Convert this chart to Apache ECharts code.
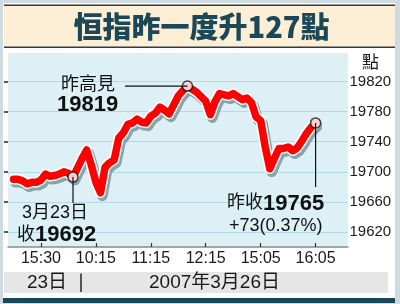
<!DOCTYPE html>
<html><head><meta charset="utf-8">
<script src="https://cdn.jsdelivr.net/npm/echarts@6/dist/echarts.min.js"></script>
<style>html,body{margin:0;padding:0;background:#cfdae1;}#c{width:400px;height:304px;}</style>
</head><body><div id="c"></div>
<script>
const titleText = '恒指昨一度升127點';
const day1Label = '23日';
const day2Label = '2007年3月26日';
const unitLabel = '點';

const day1Times = ['15:00','15:05','15:10','15:15','15:20','15:25','15:30','15:35','15:40','15:45','15:50','15:55','16:00','16:05'];
const day1Values = [19690,19690,19688,19684,19686,19686,19689,19697,19694,19695,19697,19700,19698,19693];

const amTimes = ['10:00','10:05','10:10','10:15','10:20','10:25','10:30','10:35','10:40','10:45','10:50','10:55',
  '11:00','11:05','11:10','11:15','11:20','11:25','11:30','11:35','11:40','11:45','11:50','11:55',
  '12:00','12:05','12:10','12:15','12:20','12:25','12:30'];
const amValues = [19718,19729,19709,19686,19672,19706,19712,19716,19745,19752,19763,19765,
  19770,19766,19765,19774,19778,19786,19782,19777,19789,19801,19808,19814,
  19810,19806,19800,19794,19776,19793,19804];

const pmTimes = ['14:30','14:35','14:40','14:45','14:50','14:55','15:00','15:05','15:10','15:15','15:20','15:25',
  '15:30','15:35','15:40','15:45','15:50','15:55','16:00','16:05'];
const pmValues = [19801,19804,19800,19796,19798,19792,19773,19768,19733,19704,19718,19731,
  19731,19733,19728,19732,19741,19751,19759,19765];

const xTickLabels = ['3/23 15:30','3/26 10:15','3/26 11:15','3/26 12:15','3/26 15:05','3/26 16:05'];
const yTickValues = [19620,19660,19700,19740,19780,19820];

const highText = ['昨高見','19819'];
const prevCloseText = ['3月23日','收','19692'];
const closeText = ['昨收','19765','+73(0.37%)'];

// build category list (sessions separated by an empty slot)
const categories = [].concat(
  day1Times.map(t => '3/23 ' + t), [''],
  amTimes.map(t => '3/26 ' + t), [' '],
  pmTimes.map(t => '3/26 ' + t));
const values = [].concat(day1Values, [null], amValues, [null], pmValues);

const idxPrev = day1Values.length - 1;
let idxHigh = 0;
values.forEach((v, i) => { if (v != null && v > values[idxHigh]) idxHigh = i; });
const idxLast = values.length - 1;

const chart = echarts.init(document.getElementById('c'), null, {renderer: 'canvas'});
const yMin = 19600, yMax = 19858;
const tickSet = new Set(xTickLabels);
const FONT = '"Liberation Sans", Arial, "Noto Sans CJK TC", sans-serif';
const CJK = '"Liberation Sans", "Noto Sans CJK TC", sans-serif';

const option = {
  animation: false,
  backgroundColor: '#cfdae1',
  grid: [
    {left: 8, right: 52, top: 53, bottom: 57, show: true, backgroundColor: '#ddf0f5', borderWidth: 0},
    {left: 13.5, right: 84.4, top: 53, bottom: 57}
  ],
  xAxis: [
    {gridIndex: 0, type: 'value', min: 0, max: 1, axisLine: {show: true, lineStyle: {color: '#8c8c8c', width: 1.5}},
     axisTick: {show: false}, axisLabel: {show: false}, splitLine: {show: false}},
    {gridIndex: 1, type: 'category', data: categories, boundaryGap: false,
     axisLine: {show: false},
     axisTick: {show: true, inside: true, length: 4, interval: (i, v) => tickSet.has(v), lineStyle: {color: '#333', width: 1.2}},
     axisLabel: {interval: (i, v) => tickSet.has(v), formatter: v => v.split(' ')[1] || '', color: '#1a1a1a',
       fontSize: 16, fontFamily: FONT, margin: 4},
     splitLine: {show: false}}
  ],
  yAxis: [
    {gridIndex: 0, type: 'value', position: 'right', min: yMin, max: yMax,
     axisLine: {show: false},
     axisTick: {show: true, inside: true, length: 4, customValues: yTickValues, lineStyle: {color: '#222', width: 1.5}},
     axisLabel: {customValues: yTickValues, formatter: v => String(v), color: '#1a1a1a', fontSize: 15, fontFamily: FONT, margin: 1.5},
     splitLine: {show: true, lineStyle: {color: '#b3dbe6', width: 1}}},
    {gridIndex: 1, type: 'value', min: yMin, max: yMax, show: false, splitLine: {show: false}}
  ],
  series: [
    {type: 'line', xAxisIndex: 1, yAxisIndex: 1, data: values, connectNulls: true, symbol: 'none', silent: true,
     lineStyle: {color: '#ffffff', width: 10.5, cap: 'round', join: 'round',
       shadowColor: '#87a3ab', shadowBlur: 0, shadowOffsetX: 2, shadowOffsetY: 3}, z: 2},
    {type: 'line', xAxisIndex: 1, yAxisIndex: 1, data: values, connectNulls: true, symbol: 'none', silent: true,
     lineStyle: {color: '#ff0000', width: 7.5, cap: 'round', join: 'round'}, z: 3},
    {type: 'scatter', xAxisIndex: 1, yAxisIndex: 1, symbol: 'circle', symbolSize: 10, silent: true,
     data: [[idxPrev, values[idxPrev]], [idxHigh, values[idxHigh]], [idxLast, values[idxLast]]],
     itemStyle: {color: '#ffffff', borderColor: '#111', borderWidth: 1.5}, z: 6}
  ]
};
chart.setOption(option);

const pPrev = chart.convertToPixel({xAxisIndex: 1, yAxisIndex: 1}, [idxPrev, values[idxPrev]]);
const pHigh = chart.convertToPixel({xAxisIndex: 1, yAxisIndex: 1}, [idxHigh, values[idxHigh]]);
const pLast = chart.convertToPixel({xAxisIndex: 1, yAxisIndex: 1}, [idxLast, values[idxLast]]);

const teal = '#1c4757';
chart.setOption({graphic: [
  {type: 'rect', z: -50, shape: {x: 3, y: 3, width: 392, height: 297}, style: {fill: '#ffffff'}},
  {type: 'rect', z: -40, shape: {x: 4, y: 4.5, width: 391, height: 43}, style: {fill: '#fcefd6'}},
  {type: 'rect', z: -39, shape: {x: 4, y: 4.5, width: 391, height: 1.5}, style: {fill: '#2e3c44'}},
  {type: 'rect', z: -39, shape: {x: 4, y: 46.5, width: 391, height: 1.5}, style: {fill: '#2e3c44'}},
  {type: 'text', z: 50, x: 201.5, y: 27, style: {text: titleText, fill: teal, font: '900 29px "Noto Sans CJK TC", sans-serif',
    align: 'center', verticalAlign: 'middle'}},
  {type: 'text', z: 50, x: 370.5, y: 62, style: {text: unitLabel, fill: '#1a1a1a', font: '17px "Noto Sans CJK TC", sans-serif',
    align: 'center', verticalAlign: 'middle'}},
  // bottom band
  {type: 'rect', z: -30, shape: {x: 4, y: 272, width: 384, height: 21}, style: {fill: '#e6e6e6'}},
  {type: 'rect', z: -30, shape: {x: 3, y: 298, width: 392, height: 5}, style: {fill: teal}},
  {type: 'rect', z: -29, shape: {x: 80, y: 273.5, width: 2, height: 18.5}, style: {fill: '#555'}},
  {type: 'text', z: 50, x: 47, y: 283, style: {text: day1Label, fill: '#1a1a1a', font: '19px ' + CJK, align: 'center', verticalAlign: 'middle'}},
  {type: 'text', z: 50, x: 214.5, y: 283, style: {text: day2Label, fill: '#1a1a1a', font: '19px ' + CJK, align: 'center', verticalAlign: 'middle'}},
  // leader lines
  {type: 'line', z: 40, shape: {x1: 125, y1: pHigh[1], x2: pHigh[0], y2: pHigh[1]}, style: {stroke: '#111', lineWidth: 1.2}},
  {type: 'line', z: 40, shape: {x1: pPrev[0], y1: pPrev[1], x2: pPrev[0], y2: 203}, style: {stroke: '#111', lineWidth: 1.2}},
  {type: 'line', z: 40, shape: {x1: pLast[0], y1: pLast[1], x2: pLast[0], y2: 187}, style: {stroke: '#111', lineWidth: 1.2}},
  // annotations
  {type: 'text', z: 50, x: 61, y: 85.5, style: {text: highText[0], fill: '#111', font: '18px ' + CJK, verticalAlign: 'middle'}},
  {type: 'text', z: 50, x: 57, y: 105, style: {text: highText[1], fill: '#111', font: 'bold 22px ' + FONT, verticalAlign: 'middle'}},
  {type: 'text', z: 50, x: 22, y: 213.5, style: {text: prevCloseText[0], fill: '#111', font: '18px ' + CJK, verticalAlign: 'middle'}},
  {type: 'text', z: 50, x: 17, y: 235, style: {
    text: '{a|' + prevCloseText[1] + '}{b|' + prevCloseText[2] + '}', verticalAlign: 'middle',
    rich: {a: {fontSize: 18, fontFamily: CJK, fill: '#111', verticalAlign: 'middle'},
           b: {fontSize: 22, fontWeight: 'bold', fontFamily: FONT, fill: '#111', verticalAlign: 'middle'}}}},
  {type: 'text', z: 50, x: 227, y: 203.5, style: {
    text: '{a|' + closeText[0] + '}{b|' + closeText[1] + '}', verticalAlign: 'middle',
    rich: {a: {fontSize: 18, fontFamily: CJK, fill: '#111', verticalAlign: 'middle'},
           b: {fontSize: 22, fontWeight: 'bold', fontFamily: FONT, fill: '#111', verticalAlign: 'middle'}}}},
  {type: 'text', z: 50, x: 229, y: 226, style: {text: closeText[2], fill: '#111', font: '18px ' + FONT, verticalAlign: 'middle'}}
]});
</script></body></html>
